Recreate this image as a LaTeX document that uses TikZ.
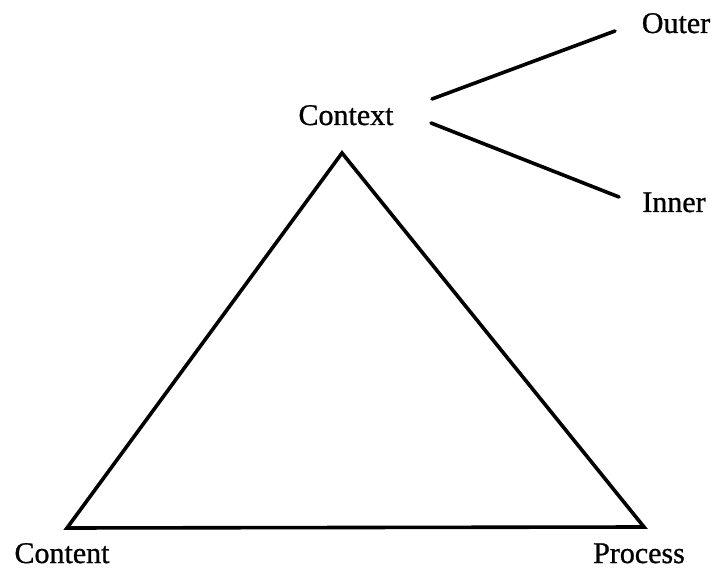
\documentclass[tikz,border=0pt]{standalone}
\usepackage{fontspec}
\setmainfont{Liberation Serif}
\newfontfamily\lblfont{Liberation Serif}[FakeBold=0.9]
\begin{document}
\begin{tikzpicture}[x=1pt,y=-1pt,
  lbl/.style={font=\lblfont\fontsize{30}{32}\selectfont, inner sep=0pt, anchor=base},
  edge/.style={line width=3.6pt, line join=miter, line cap=round}]
\useasboundingbox (0,0) rectangle (718,569);
\node[lbl] (context) at (346,125) {Context};
\node[lbl] (outer) at (676,33) {Outer};
\node[lbl] (inner) at (674,212) {Inner};
\node[lbl] (content) at (62,563) {Content};
\node[lbl] (process) at (639,563) {Process};
\coordinate (apex) at (342,153);
\coordinate (bl) at (67,528);
\coordinate (br) at (644,527);
\coordinate (co1) at (432,99);
\coordinate (co2) at (615,31);
\coordinate (ci1) at (431,123);
\coordinate (ci2) at (619,197);
\draw[edge] (apex) -- (br) -- (bl) -- cycle;
\draw[edge] (co1) -- (co2);
\draw[edge] (ci1) -- (ci2);
\end{tikzpicture}
\end{document}
